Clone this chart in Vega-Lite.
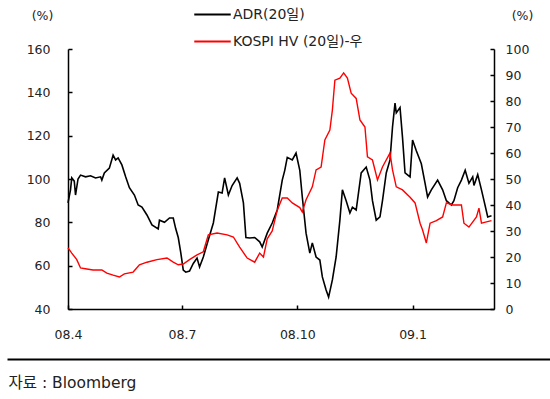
{
  "$schema": "https://vega.github.io/schema/vega-lite/v6.json",
  "autosize": {"type": "none"},
  "width": 426,
  "height": 260,
  "padding": {"left": 68, "top": 49, "right": 56, "bottom": 90},
  "view": {"stroke": null},
  "config": {
    "font": "DejaVu Sans, Noto Sans CJK KR",
    "axis": {"grid": false, "domainColor": "#000000", "domainWidth": 1.5, "tickColor": "#000000", "tickWidth": 1.5, "tickSize": -4, "labelFont": "DejaVu Sans, Noto Sans CJK KR", "labelFontSize": 12.5, "labelColor": "#222222", "titleFont": "DejaVu Sans, Noto Sans CJK KR", "titleFontSize": 12.5, "titleFontWeight": "normal", "titleColor": "#222222"},
    "legend": {"labelFont": "DejaVu Sans, Noto Sans CJK KR", "labelFontSize": 14, "labelColor": "#222222"}
  },
  "datasets": {
    "adr": [
      {"s": "ADR(20일)", "d": "2008-04-01", "v": 89},
      {"s": "ADR(20일)", "d": "2008-04-03", "v": 95},
      {"s": "ADR(20일)", "d": "2008-04-04", "v": 100.5},
      {"s": "ADR(20일)", "d": "2008-04-06", "v": 99},
      {"s": "ADR(20일)", "d": "2008-04-07", "v": 92.6},
      {"s": "ADR(20일)", "d": "2008-04-09", "v": 100},
      {"s": "ADR(20일)", "d": "2008-04-11", "v": 101.8},
      {"s": "ADR(20일)", "d": "2008-04-15", "v": 101},
      {"s": "ADR(20일)", "d": "2008-04-19", "v": 101.5},
      {"s": "ADR(20일)", "d": "2008-04-23", "v": 100.5},
      {"s": "ADR(20일)", "d": "2008-04-27", "v": 101},
      {"s": "ADR(20일)", "d": "2008-04-28", "v": 99.5},
      {"s": "ADR(20일)", "d": "2008-04-30", "v": 102.8},
      {"s": "ADR(20일)", "d": "2008-05-04", "v": 105},
      {"s": "ADR(20일)", "d": "2008-05-07", "v": 111},
      {"s": "ADR(20일)", "d": "2008-05-09", "v": 108.8},
      {"s": "ADR(20일)", "d": "2008-05-11", "v": 109.7},
      {"s": "ADR(20일)", "d": "2008-05-14", "v": 106.5},
      {"s": "ADR(20일)", "d": "2008-05-17", "v": 101},
      {"s": "ADR(20일)", "d": "2008-05-20", "v": 96},
      {"s": "ADR(20일)", "d": "2008-05-24", "v": 92.6},
      {"s": "ADR(20일)", "d": "2008-05-27", "v": 88},
      {"s": "ADR(20일)", "d": "2008-05-30", "v": 87},
      {"s": "ADR(20일)", "d": "2008-06-03", "v": 83.4},
      {"s": "ADR(20일)", "d": "2008-06-07", "v": 78.8},
      {"s": "ADR(20일)", "d": "2008-06-12", "v": 77},
      {"s": "ADR(20일)", "d": "2008-06-13", "v": 81},
      {"s": "ADR(20일)", "d": "2008-06-17", "v": 80},
      {"s": "ADR(20일)", "d": "2008-06-21", "v": 82},
      {"s": "ADR(20일)", "d": "2008-06-24", "v": 82},
      {"s": "ADR(20일)", "d": "2008-06-26", "v": 77},
      {"s": "ADR(20일)", "d": "2008-06-28", "v": 73},
      {"s": "ADR(20일)", "d": "2008-06-30", "v": 66},
      {"s": "ADR(20일)", "d": "2008-07-02", "v": 58},
      {"s": "ADR(20일)", "d": "2008-07-04", "v": 57},
      {"s": "ADR(20일)", "d": "2008-07-07", "v": 57.5},
      {"s": "ADR(20일)", "d": "2008-07-10", "v": 61},
      {"s": "ADR(20일)", "d": "2008-07-13", "v": 63.5},
      {"s": "ADR(20일)", "d": "2008-07-15", "v": 59.4},
      {"s": "ADR(20일)", "d": "2008-07-18", "v": 64},
      {"s": "ADR(20일)", "d": "2008-07-22", "v": 72},
      {"s": "ADR(20일)", "d": "2008-07-26", "v": 79.7},
      {"s": "ADR(20일)", "d": "2008-07-30", "v": 94},
      {"s": "ADR(20일)", "d": "2008-08-02", "v": 93.5},
      {"s": "ADR(20일)", "d": "2008-08-04", "v": 100.5},
      {"s": "ADR(20일)", "d": "2008-08-07", "v": 92.6},
      {"s": "ADR(20일)", "d": "2008-08-10", "v": 97},
      {"s": "ADR(20일)", "d": "2008-08-14", "v": 100.5},
      {"s": "ADR(20일)", "d": "2008-08-16", "v": 98},
      {"s": "ADR(20일)", "d": "2008-08-19", "v": 89},
      {"s": "ADR(20일)", "d": "2008-08-21", "v": 73},
      {"s": "ADR(20일)", "d": "2008-08-24", "v": 72.8},
      {"s": "ADR(20일)", "d": "2008-08-28", "v": 73},
      {"s": "ADR(20일)", "d": "2008-09-01", "v": 71},
      {"s": "ADR(20일)", "d": "2008-09-03", "v": 68.6},
      {"s": "ADR(20일)", "d": "2008-09-07", "v": 75},
      {"s": "ADR(20일)", "d": "2008-09-11", "v": 79.7},
      {"s": "ADR(20일)", "d": "2008-09-15", "v": 85.7},
      {"s": "ADR(20일)", "d": "2008-09-19", "v": 99.5},
      {"s": "ADR(20일)", "d": "2008-09-21", "v": 104},
      {"s": "ADR(20일)", "d": "2008-09-23", "v": 110},
      {"s": "ADR(20일)", "d": "2008-09-27", "v": 108.8},
      {"s": "ADR(20일)", "d": "2008-09-30", "v": 112},
      {"s": "ADR(20일)", "d": "2008-10-03", "v": 104},
      {"s": "ADR(20일)", "d": "2008-10-05", "v": 91.7},
      {"s": "ADR(20일)", "d": "2008-10-08", "v": 75},
      {"s": "ADR(20일)", "d": "2008-10-11", "v": 65.8},
      {"s": "ADR(20일)", "d": "2008-10-13", "v": 70.5},
      {"s": "ADR(20일)", "d": "2008-10-16", "v": 64},
      {"s": "ADR(20일)", "d": "2008-10-19", "v": 62.6},
      {"s": "ADR(20일)", "d": "2008-10-21", "v": 54.8},
      {"s": "ADR(20일)", "d": "2008-10-24", "v": 48.8},
      {"s": "ADR(20일)", "d": "2008-10-26", "v": 45.5},
      {"s": "ADR(20일)", "d": "2008-10-29", "v": 53.4},
      {"s": "ADR(20일)", "d": "2008-11-01", "v": 64},
      {"s": "ADR(20일)", "d": "2008-11-04", "v": 81},
      {"s": "ADR(20일)", "d": "2008-11-06", "v": 95},
      {"s": "ADR(20일)", "d": "2008-11-09", "v": 90},
      {"s": "ADR(20일)", "d": "2008-11-12", "v": 84.3},
      {"s": "ADR(20일)", "d": "2008-11-14", "v": 87},
      {"s": "ADR(20일)", "d": "2008-11-17", "v": 85.7},
      {"s": "ADR(20일)", "d": "2008-11-21", "v": 102.8},
      {"s": "ADR(20일)", "d": "2008-11-25", "v": 105.5},
      {"s": "ADR(20일)", "d": "2008-11-28", "v": 99.5},
      {"s": "ADR(20일)", "d": "2008-11-30", "v": 90},
      {"s": "ADR(20일)", "d": "2008-12-03", "v": 81},
      {"s": "ADR(20일)", "d": "2008-12-06", "v": 82.5},
      {"s": "ADR(20일)", "d": "2008-12-08", "v": 90},
      {"s": "ADR(20일)", "d": "2008-12-11", "v": 102.8},
      {"s": "ADR(20일)", "d": "2008-12-14", "v": 108.8},
      {"s": "ADR(20일)", "d": "2008-12-16", "v": 124},
      {"s": "ADR(20일)", "d": "2008-12-18", "v": 135},
      {"s": "ADR(20일)", "d": "2008-12-19", "v": 130.5},
      {"s": "ADR(20일)", "d": "2008-12-22", "v": 133},
      {"s": "ADR(20일)", "d": "2008-12-24", "v": 119},
      {"s": "ADR(20일)", "d": "2008-12-26", "v": 102.8},
      {"s": "ADR(20일)", "d": "2008-12-30", "v": 101},
      {"s": "ADR(20일)", "d": "2009-01-01", "v": 118},
      {"s": "ADR(20일)", "d": "2009-01-04", "v": 113},
      {"s": "ADR(20일)", "d": "2009-01-08", "v": 107},
      {"s": "ADR(20일)", "d": "2009-01-11", "v": 98},
      {"s": "ADR(20일)", "d": "2009-01-13", "v": 91.7},
      {"s": "ADR(20일)", "d": "2009-01-16", "v": 95},
      {"s": "ADR(20일)", "d": "2009-01-21", "v": 99.5},
      {"s": "ADR(20일)", "d": "2009-01-25", "v": 95},
      {"s": "ADR(20일)", "d": "2009-01-28", "v": 90},
      {"s": "ADR(20일)", "d": "2009-02-01", "v": 88},
      {"s": "ADR(20일)", "d": "2009-02-03", "v": 90},
      {"s": "ADR(20일)", "d": "2009-02-06", "v": 96},
      {"s": "ADR(20일)", "d": "2009-02-09", "v": 99.5},
      {"s": "ADR(20일)", "d": "2009-02-12", "v": 104},
      {"s": "ADR(20일)", "d": "2009-02-15", "v": 98},
      {"s": "ADR(20일)", "d": "2009-02-18", "v": 101},
      {"s": "ADR(20일)", "d": "2009-02-19", "v": 97},
      {"s": "ADR(20일)", "d": "2009-02-22", "v": 102},
      {"s": "ADR(20일)", "d": "2009-02-25", "v": 95},
      {"s": "ADR(20일)", "d": "2009-02-27", "v": 90},
      {"s": "ADR(20일)", "d": "2009-03-02", "v": 82.5},
      {"s": "ADR(20일)", "d": "2009-03-05", "v": 83}
    ],
    "hv": [
      {"s": "KOSPI HV (20일)-우", "d": "2008-04-01", "v": 23.5},
      {"s": "KOSPI HV (20일)-우", "d": "2008-04-04", "v": 21.5},
      {"s": "KOSPI HV (20일)-우", "d": "2008-04-08", "v": 19},
      {"s": "KOSPI HV (20일)-우", "d": "2008-04-11", "v": 15.8},
      {"s": "KOSPI HV (20일)-우", "d": "2008-04-16", "v": 15.4},
      {"s": "KOSPI HV (20일)-우", "d": "2008-04-21", "v": 15},
      {"s": "KOSPI HV (20일)-우", "d": "2008-04-28", "v": 15},
      {"s": "KOSPI HV (20일)-우", "d": "2008-05-02", "v": 13.8},
      {"s": "KOSPI HV (20일)-우", "d": "2008-05-07", "v": 13},
      {"s": "KOSPI HV (20일)-우", "d": "2008-05-12", "v": 12.3},
      {"s": "KOSPI HV (20일)-우", "d": "2008-05-16", "v": 13.5},
      {"s": "KOSPI HV (20일)-우", "d": "2008-05-23", "v": 14.2},
      {"s": "KOSPI HV (20일)-우", "d": "2008-05-28", "v": 17},
      {"s": "KOSPI HV (20일)-우", "d": "2008-06-03", "v": 18},
      {"s": "KOSPI HV (20일)-우", "d": "2008-06-11", "v": 19},
      {"s": "KOSPI HV (20일)-우", "d": "2008-06-19", "v": 19.6},
      {"s": "KOSPI HV (20일)-우", "d": "2008-06-24", "v": 18},
      {"s": "KOSPI HV (20일)-우", "d": "2008-06-28", "v": 17},
      {"s": "KOSPI HV (20일)-우", "d": "2008-07-02", "v": 17.3},
      {"s": "KOSPI HV (20일)-우", "d": "2008-07-07", "v": 19},
      {"s": "KOSPI HV (20일)-우", "d": "2008-07-13", "v": 20.8},
      {"s": "KOSPI HV (20일)-우", "d": "2008-07-18", "v": 22},
      {"s": "KOSPI HV (20일)-우", "d": "2008-07-22", "v": 28.5},
      {"s": "KOSPI HV (20일)-우", "d": "2008-07-29", "v": 29.2},
      {"s": "KOSPI HV (20일)-우", "d": "2008-08-06", "v": 28.5},
      {"s": "KOSPI HV (20일)-우", "d": "2008-08-11", "v": 27.7},
      {"s": "KOSPI HV (20일)-우", "d": "2008-08-16", "v": 23.8},
      {"s": "KOSPI HV (20일)-우", "d": "2008-08-22", "v": 19.6},
      {"s": "KOSPI HV (20일)-우", "d": "2008-08-28", "v": 18},
      {"s": "KOSPI HV (20일)-우", "d": "2008-09-01", "v": 21.5},
      {"s": "KOSPI HV (20일)-우", "d": "2008-09-04", "v": 20},
      {"s": "KOSPI HV (20일)-우", "d": "2008-09-07", "v": 27},
      {"s": "KOSPI HV (20일)-우", "d": "2008-09-11", "v": 30},
      {"s": "KOSPI HV (20일)-우", "d": "2008-09-15", "v": 38},
      {"s": "KOSPI HV (20일)-우", "d": "2008-09-19", "v": 42.7},
      {"s": "KOSPI HV (20일)-우", "d": "2008-09-23", "v": 42.7},
      {"s": "KOSPI HV (20일)-우", "d": "2008-09-27", "v": 40.8},
      {"s": "KOSPI HV (20일)-우", "d": "2008-10-03", "v": 39},
      {"s": "KOSPI HV (20일)-우", "d": "2008-10-05", "v": 37.3},
      {"s": "KOSPI HV (20일)-우", "d": "2008-10-08", "v": 42},
      {"s": "KOSPI HV (20일)-우", "d": "2008-10-13", "v": 47},
      {"s": "KOSPI HV (20일)-우", "d": "2008-10-16", "v": 53.5},
      {"s": "KOSPI HV (20일)-우", "d": "2008-10-20", "v": 54.6},
      {"s": "KOSPI HV (20일)-우", "d": "2008-10-23", "v": 65},
      {"s": "KOSPI HV (20일)-우", "d": "2008-10-27", "v": 68.8},
      {"s": "KOSPI HV (20일)-우", "d": "2008-10-29", "v": 76.5},
      {"s": "KOSPI HV (20일)-우", "d": "2008-10-31", "v": 88},
      {"s": "KOSPI HV (20일)-우", "d": "2008-11-04", "v": 88.8},
      {"s": "KOSPI HV (20일)-우", "d": "2008-11-07", "v": 90.8},
      {"s": "KOSPI HV (20일)-우", "d": "2008-11-10", "v": 88.8},
      {"s": "KOSPI HV (20일)-우", "d": "2008-11-13", "v": 83},
      {"s": "KOSPI HV (20일)-우", "d": "2008-11-17", "v": 81},
      {"s": "KOSPI HV (20일)-우", "d": "2008-11-20", "v": 72.7},
      {"s": "KOSPI HV (20일)-우", "d": "2008-11-24", "v": 70},
      {"s": "KOSPI HV (20일)-우", "d": "2008-11-26", "v": 58.5},
      {"s": "KOSPI HV (20일)-우", "d": "2008-11-30", "v": 57.3},
      {"s": "KOSPI HV (20일)-우", "d": "2008-12-04", "v": 49.6},
      {"s": "KOSPI HV (20일)-우", "d": "2008-12-08", "v": 54.6},
      {"s": "KOSPI HV (20일)-우", "d": "2008-12-14", "v": 60},
      {"s": "KOSPI HV (20일)-우", "d": "2008-12-16", "v": 53.5},
      {"s": "KOSPI HV (20일)-우", "d": "2008-12-19", "v": 47},
      {"s": "KOSPI HV (20일)-우", "d": "2008-12-24", "v": 45.8},
      {"s": "KOSPI HV (20일)-우", "d": "2008-12-30", "v": 43},
      {"s": "KOSPI HV (20일)-우", "d": "2009-01-03", "v": 40.8},
      {"s": "KOSPI HV (20일)-우", "d": "2009-01-07", "v": 33},
      {"s": "KOSPI HV (20일)-우", "d": "2009-01-09", "v": 30.4},
      {"s": "KOSPI HV (20일)-우", "d": "2009-01-12", "v": 25.4},
      {"s": "KOSPI HV (20일)-우", "d": "2009-01-15", "v": 33},
      {"s": "KOSPI HV (20일)-우", "d": "2009-01-20", "v": 34},
      {"s": "KOSPI HV (20일)-우", "d": "2009-01-25", "v": 35.4},
      {"s": "KOSPI HV (20일)-우", "d": "2009-01-28", "v": 40.8},
      {"s": "KOSPI HV (20일)-우", "d": "2009-02-02", "v": 40},
      {"s": "KOSPI HV (20일)-우", "d": "2009-02-09", "v": 40},
      {"s": "KOSPI HV (20일)-우", "d": "2009-02-11", "v": 33},
      {"s": "KOSPI HV (20일)-우", "d": "2009-02-15", "v": 31.5},
      {"s": "KOSPI HV (20일)-우", "d": "2009-02-21", "v": 35.4},
      {"s": "KOSPI HV (20일)-우", "d": "2009-02-23", "v": 38.8},
      {"s": "KOSPI HV (20일)-우", "d": "2009-02-25", "v": 33},
      {"s": "KOSPI HV (20일)-우", "d": "2009-03-01", "v": 33.5},
      {"s": "KOSPI HV (20일)-우", "d": "2009-03-05", "v": 34}
    ]
  },
  "layer": [
    {
      "data": {"name": "adr"},
      "mark": {"type": "line", "strokeWidth": 1.6},
      "encoding": {
        "x": {
          "field": "d", "type": "temporal",
          "scale": {"type": "utc", "domain": [{"year": 2008, "month": 4, "date": 1, "utc": true}, {"year": 2009, "month": 3, "date": 7, "utc": true}]},
          "axis": {
            "values": [{"year": 2008, "month": 4, "date": 1, "utc": true}, {"year": 2008, "month": 7, "date": 1, "utc": true}, {"year": 2008, "month": 10, "date": 1, "utc": true}, {"year": 2009, "month": 1, "date": 1, "utc": true}],
            "format": "%y.%-m", "labelFlush": false, "labelOverlap": false, "labelPadding": 23,
            "title": "자료 : Bloomberg", "titleX": -60, "titleY": 66, "titleAlign": "left", "titleBaseline": "top", "titleFontSize": 15.5
          }
        },
        "y": {"field": "v", "type": "quantitative",
          "scale": {"domain": [40, 160], "nice": false, "zero": false},
          "axis": {"orient": "left", "values": [40, 60, 80, 100, 120, 140, 160], "labelPadding": 22,
            "title": "(%)", "titleAngle": 0, "titleX": -26, "titleY": -34, "titleAlign": "center", "titleBaseline": "middle"}},
        "color": {
          "field": "s", "type": "nominal",
          "scale": {"domain": ["ADR(20일)", "KOSPI HV (20일)-우"], "range": ["#000000", "#ff0000"]},
          "legend": {"title": null, "orient": "none", "legendX": 125, "legendY": -54, "direction": "vertical", "symbolType": "stroke", "symbolSize": 1330, "symbolStrokeWidth": 1.8, "labelOffset": 1, "rowPadding": -10}
        }
      }
    },
    {
      "data": {"name": "hv"},
      "mark": {"type": "line", "strokeWidth": 1.4},
      "encoding": {
        "x": {
          "field": "d", "type": "temporal",
          "scale": {"type": "utc", "domain": [{"year": 2008, "month": 4, "date": 1, "utc": true}, {"year": 2009, "month": 3, "date": 7, "utc": true}]},
          "axis": null
        },
        "y": {"field": "v", "type": "quantitative",
          "scale": {"domain": [0, 100], "nice": false},
          "axis": {"orient": "right", "values": [0, 10, 20, 30, 40, 50, 60, 70, 80, 90, 100], "labelPadding": 15,
            "title": "(%)", "titleAngle": 0, "titleX": 28, "titleY": -34, "titleAlign": "center", "titleBaseline": "middle"}},
        "color": {"field": "s", "type": "nominal"}
      }
    },
    {
      "data": {"values": []},
      "mark": "point",
      "encoding": {
        "x": {"field": "z", "type": "quantitative",
          "scale": {"domain": [0, 1], "range": [-61, 482]},
          "axis": {"orient": "bottom", "offset": 50, "ticks": false, "labels": false, "title": null, "domainWidth": 2, "domainColor": "#000000"}}
      }
    }
  ],
  "resolve": {"scale": {"x": "independent", "y": "independent"}}
}
